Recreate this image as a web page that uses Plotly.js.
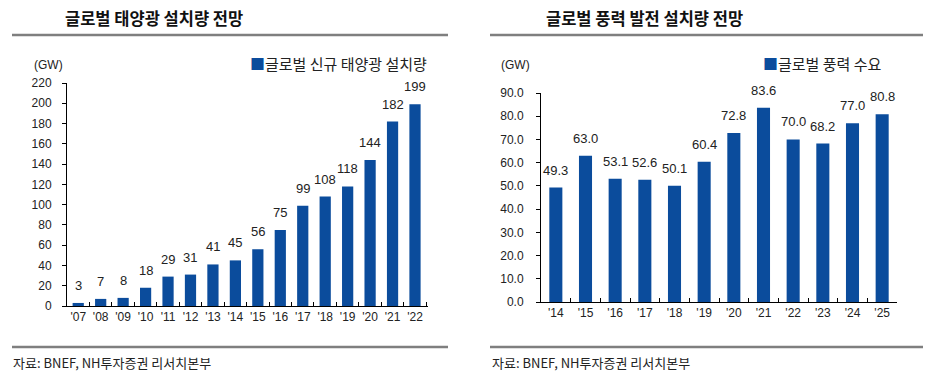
<!DOCTYPE html>
<html>
<head>
<meta charset="utf-8">
<script src="https://cdn.plot.ly/plotly-3.0.1.min.js"></script>
<style>
html,body{margin:0;padding:0;background:#fff;}
#chart{width:945px;height:375px;}
</style>
</head>
<body>
<div id="chart"></div>
<script>
// ---- data ----
const solarYears = ["'07","'08","'09","'10","'11","'12","'13","'14","'15","'16","'17","'18","'19","'20","'21","'22"];
const solarValues = [3,7,8,18,29,31,41,45,56,75,99,108,118,144,182,199];
const windYears = ["'14","'15","'16","'17","'18","'19","'20","'21","'22","'23","'24","'25"];
const windValues = [49.3,63.0,53.1,52.6,50.1,60.4,72.8,83.6,70.0,68.2,77.0,80.8];
const solarTitle = "글로벌 태양광 설치량 전망";
const windTitle = "글로벌 풍력 발전 설치량 전망";
const solarSeries = "글로벌 신규 태양광 설치량";
const windSeries = "글로벌 풍력 수요";
const sourceText = "자료: BNEF, NH투자증권 리서치본부";
const unitText = "(GW)";

// ---- styling ----
const W = 945, H = 375;
const FONT = "Liberation Sans, Arial, Noto Sans CJK KR, sans-serif";
const KFONT = "Noto Sans CJK KR, Liberation Sans, sans-serif";
const BAR = "#0b4c9c";
const px = v => v / W;
const py = v => 1 - v / H;

const traces = [
  {type:'bar', x:solarYears, y:solarValues, name:solarSeries, xaxis:'x', yaxis:'y',
   marker:{color:BAR}, width:0.5, hoverinfo:'skip', showlegend:false},
  {type:'bar', x:windYears, y:windValues, name:windSeries, xaxis:'x2', yaxis:'y2',
   marker:{color:BAR}, width:0.44, hoverinfo:'skip', showlegend:false}
];

const annotations = [];
solarYears.forEach((c,i)=>annotations.push({xref:'x',yref:'y',x:c,y:solarValues[i],text:String(solarValues[i]),
  showarrow:false,yanchor:'bottom',yshift:8,font:{family:FONT,size:13,color:'#222'}}));
windYears.forEach((c,i)=>annotations.push({xref:'x2',yref:'y2',x:c,y:windValues[i],text:windValues[i].toFixed(1),
  showarrow:false,yanchor:'bottom',yshift:8,font:{family:FONT,size:13,color:'#222'}}));
// titles
annotations.push({xref:'paper',yref:'paper',x:px(154),y:py(18),text:'<b>'+solarTitle+'</b>',showarrow:false,
  xanchor:'center',yanchor:'middle',font:{family:KFONT,size:16.5,color:'#111'}});
annotations.push({xref:'paper',yref:'paper',x:px(644),y:py(18),text:'<b>'+windTitle+'</b>',showarrow:false,
  xanchor:'center',yanchor:'middle',font:{family:KFONT,size:16.5,color:'#111'}});
// legends
annotations.push({xref:'paper',yref:'paper',x:px(248),y:py(63),
  text:'<span style="color:'+BAR+'">■</span>'+solarSeries,showarrow:false,
  xanchor:'left',yanchor:'middle',font:{family:KFONT,size:15,color:'#222'}});
annotations.push({xref:'paper',yref:'paper',x:px(761),y:py(63),
  text:'<span style="color:'+BAR+'">■</span>'+windSeries,showarrow:false,
  xanchor:'left',yanchor:'middle',font:{family:KFONT,size:15,color:'#222'}});
// units
annotations.push({xref:'paper',yref:'paper',x:px(32),y:py(65),text:unitText,showarrow:false,
  xanchor:'left',yanchor:'middle',font:{family:FONT,size:12,color:'#222'}});
annotations.push({xref:'paper',yref:'paper',x:px(499),y:py(65),text:unitText,showarrow:false,
  xanchor:'left',yanchor:'middle',font:{family:FONT,size:12,color:'#222'}});
// sources
annotations.push({xref:'paper',yref:'paper',x:px(11),y:py(362),text:sourceText,showarrow:false,
  xanchor:'left',yanchor:'middle',font:{family:KFONT,size:13,color:'#222'}});
annotations.push({xref:'paper',yref:'paper',x:px(490),y:py(362),text:sourceText,showarrow:false,
  xanchor:'left',yanchor:'middle',font:{family:KFONT,size:13,color:'#222'}});

const sepLine = (x0,x1,y) => ({type:'line',xref:'paper',yref:'paper',x0:px(x0),x1:px(x1),y0:py(y),y1:py(y),
  line:{color:'#7f7f7f',width:2.5}});

const xBase = {type:'category', showline:true, linecolor:'#000', linewidth:1, ticks:'inside', ticklen:4,
  tickcolor:'#000', tickson:'boundaries', showgrid:false, zeroline:false, tickangle:0,
  tickfont:{family:FONT,size:12,color:'#222'}, fixedrange:true};
const yBase = {showline:true, linecolor:'#000', linewidth:1, ticks:'outside', ticklen:4, tickcolor:'#000',
  showgrid:false, zeroline:false, tickfont:{family:FONT,size:12,color:'#222'}, ticklabelstandoff:8, fixedrange:true};

const layout = {
  width:W, height:H, margin:{l:0,r:0,t:0,b:0}, paper_bgcolor:'#fff', plot_bgcolor:'#fff',
  showlegend:false,
  xaxis:Object.assign({}, xBase, {domain:[px(67),px(428)], anchor:'y'}),
  yaxis:Object.assign({}, yBase, {domain:[py(306),py(83)], range:[0,220], dtick:20, anchor:'x'}),
  xaxis2:Object.assign({}, xBase, {domain:[px(541),px(897)], anchor:'y2'}),
  yaxis2:Object.assign({}, yBase, {domain:[py(302),py(93)], range:[0,90], dtick:10, tickformat:'.1f', anchor:'x2', ticklabelstandoff:10}),
  shapes:[sepLine(12,448,35), sepLine(490,923,35), sepLine(12,448,347), sepLine(490,923,347)],
  annotations:annotations
};

Plotly.newPlot('chart', traces, layout, {displayModeBar:false, staticPlot:true});
</script>
</body>
</html>
